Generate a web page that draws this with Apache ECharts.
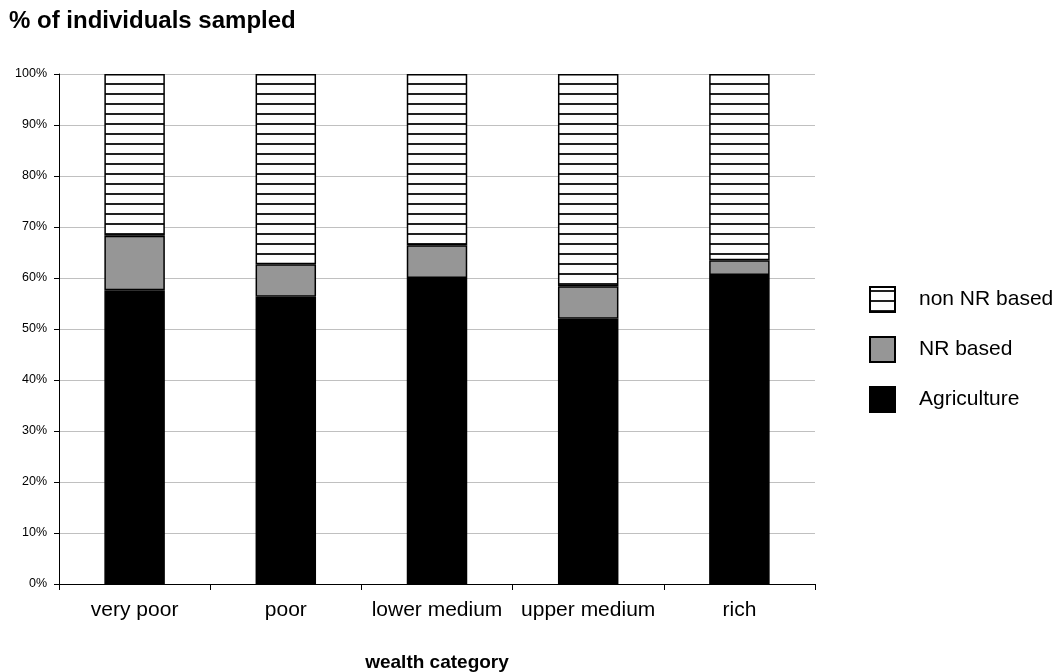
<!DOCTYPE html>
<html>
<head>
<meta charset="utf-8">
<script src="https://cdn.jsdelivr.net/npm/echarts@6/dist/echarts.min.js"></script>
<style>html,body{margin:0;padding:0;background:#fff;}#c{width:1059px;height:672px;}</style>
</head>
<body>
<div id="c"></div>
<script>
var categories = ['very poor', 'poor', 'lower medium', 'upper medium', 'rich'];
var agriculture = [57.6, 56.3, 60.0, 52.0, 60.6];
var nrBased = [10.7, 6.4, 6.4, 6.4, 2.9];
var nonNrBased = [31.7, 37.3, 33.6, 41.6, 36.5];
var yTicks = ['0%','10%','20%','30%','40%','50%','60%','70%','80%','90%','100%'];

var cv = document.createElement('canvas');
cv.width = 10; cv.height = 10;
var cx = cv.getContext('2d');
cx.fillStyle = '#ffffff'; cx.fillRect(0, 0, 10, 10);
cx.fillStyle = '#222222'; cx.fillRect(0, 3, 10, 2);
var stripe = {image: cv, repeat: 'repeat'};

var chart = echarts.init(document.getElementById('c'), null, {renderer: 'canvas'});
var font = 'Liberation Sans, Arial, sans-serif';
chart.setOption({
  animation: false,
  backgroundColor: '#ffffff',
  textStyle: {fontFamily: font},
  title: {
    text: '% of individuals sampled', left: 4, top: 4,
    textStyle: {fontSize: 24, fontWeight: 'bold', color: '#000', fontFamily: font}
  },
  grid: {left: 59, right: 244, top: 74, bottom: 88, containLabel: false, outerBoundsMode: 'none'},
  legend: {
    orient: 'vertical', left: 864, top: 281, itemWidth: 25, itemHeight: 25, itemGap: 23,
    icon: 'rect',
    textStyle: {fontSize: 21, lineHeight: 25, color: '#000', fontFamily: font, padding: [0, 0, 0, 19]},
    data: ['non NR based', 'NR based', 'Agriculture']
  },
  xAxis: {
    type: 'category', data: categories,
    name: 'wealth category', nameLocation: 'middle', nameGap: 69,
    nameTextStyle: {fontSize: 19, fontWeight: 'bold', color: '#000', fontFamily: font},
    axisLine: {lineStyle: {color: '#000', width: 1}},
    axisTick: {show: true, alignWithLabel: false, length: 6, lineStyle: {color: '#000'}},
    axisLabel: {fontSize: 21, color: '#000', margin: 16, fontFamily: font, interval: 0}
  },
  yAxis: {
    type: 'value', min: 0, max: 100, interval: 10,
    axisLine: {show: true, lineStyle: {color: '#000', width: 1}},
    axisTick: {show: true, length: 5, lineStyle: {color: '#000'}},
    axisLabel: {fontSize: 12.5, color: '#000', margin: 12, fontFamily: font,
      formatter: function (v) { return yTicks[Math.round(v / 10)]; }},
    splitLine: {lineStyle: {color: '#c0c0c0', width: 1}}
  },
  series: [
    {name: 'Agriculture', type: 'bar', stack: 's', data: agriculture, barWidth: '40%',
     itemStyle: {color: '#000000', borderColor: '#000', borderWidth: 1.5}},
    {name: 'NR based', type: 'bar', stack: 's', data: nrBased, barWidth: '40%',
     itemStyle: {color: '#969696', borderColor: '#000', borderWidth: 1.5}},
    {name: 'non NR based', type: 'bar', stack: 's', data: nonNrBased, barWidth: '40%',
     itemStyle: {color: stripe, borderColor: '#000', borderWidth: 1.5}}
  ]
});
</script>
</body>
</html>
